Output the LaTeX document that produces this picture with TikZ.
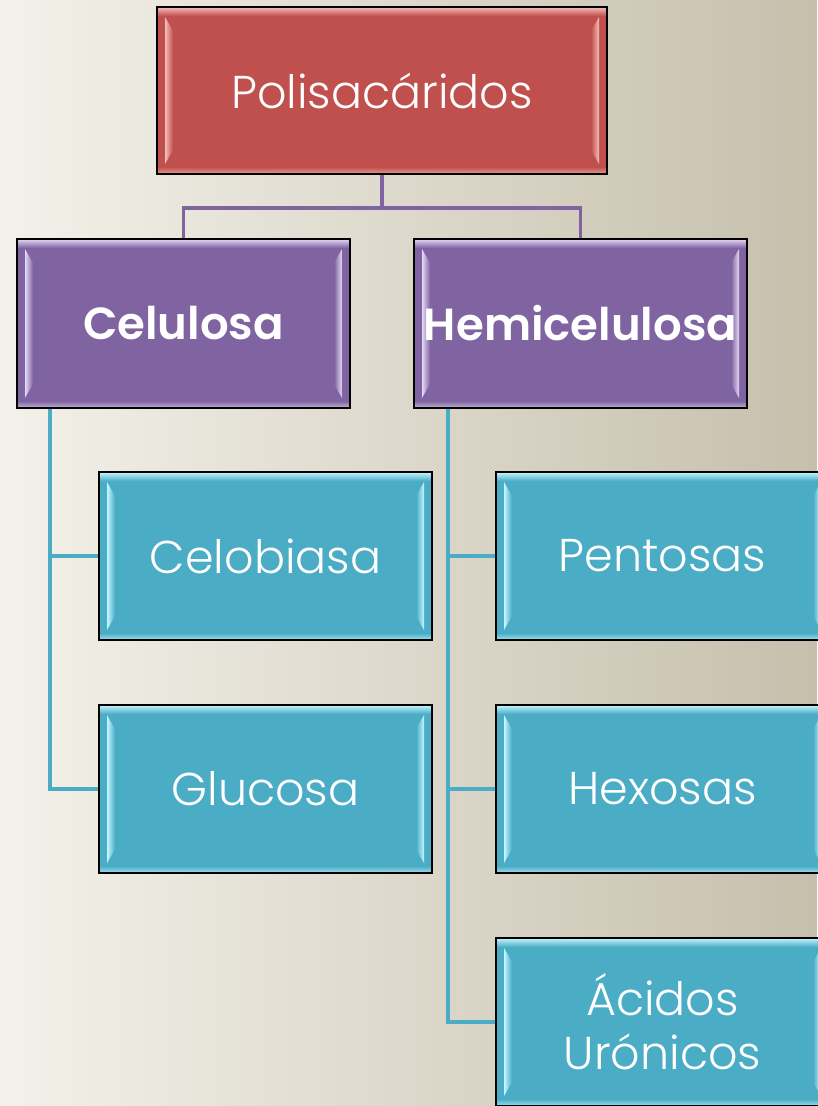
\documentclass[tikz,border=0pt]{standalone}
\usepackage{fontspec}
\setmainfont{Poppins Light}[BoldFont=Poppins SemiBold]
\usetikzlibrary{calc}

\pgfdeclarelayer{paper}
\pgfdeclarelayer{links}
\pgfsetlayers{paper,links,main}

\definecolor{bgleft}{HTML}{F3F1EA}
\definecolor{bgright}{HTML}{C6BFAC}
\definecolor{redbox}{HTML}{C0504D}
\definecolor{redlight}{HTML}{F6BDBA}
\definecolor{purplebox}{HTML}{8064A2}
\definecolor{purplelight}{HTML}{E4D8F4}
\definecolor{tealbox}{HTML}{4BACC6}
\definecolor{teallight}{HTML}{C4F6FF}

\tikzset{
  x=1pt, y=-1pt,
  % bevelled box: light side strips and soft top/bottom edges
  bevel/.style 2 args={
    fill=#1, draw=black, line width=1.6pt, text=white,
    path picture={
      \coordinate (bnw) at (path picture bounding box.north west);
      \coordinate (bse) at (path picture bounding box.south east);
      \coordinate (bne) at (bse |- bnw);
      \coordinate (bsw) at (bnw |- bse);
      \shade[top color=#2, bottom color=#1]
        (bnw) rectangle ($(bne)+(0,9)$);
      \shade[bottom color=#2!70!#1, top color=#1]
        ($(bsw)+(0,-7)$) rectangle (bse);
      \shade[left color=#2, right color=#1]
        ($(bnw)+(8,10)$) -- ($(bnw)+(16,24)$) -- ($(bsw)+(16,-24)$)
        -- ($(bsw)+(8,-10)$) -- cycle;
      \shade[right color=#2, left color=#1]
        ($(bne)+(-8,10)$) -- ($(bne)+(-16,24)$) -- ($(bse)+(-16,-24)$)
        -- ($(bse)+(-8,-10)$) -- cycle;
    }},
  rootbox/.style={bevel={redbox}{redlight}, minimum width=450pt,
    minimum height=167pt, font=\fontsize{46}{50}\selectfont},
  midbox/.style={bevel={purplebox}{purplelight}, minimum width=333pt,
    minimum height=169pt, font=\fontsize{45}{48}\selectfont\bfseries},
  leafbox/.style={bevel={tealbox}{teallight}, minimum width=333pt,
    minimum height=168pt, align=center,
    font=\fontsize{46}{54}\selectfont},
  purpleline/.style={draw=purplebox, line width=3.6pt},
  tealline/.style={draw=tealbox, line width=3.6pt},
}

\begin{document}
\begin{tikzpicture}
  % page background
  \begin{pgfonlayer}{paper}
    \shade[left color=bgleft, right color=bgright] (0,0) rectangle (817,1106);
  \end{pgfonlayer}
  \useasboundingbox (0,0) rectangle (817,1106);

  % boxes
  \node[rootbox] (root) at (382,90.5) {Polisacáridos};
  \node[midbox] (cel) at (183.5,323.5) {Celulosa};
  \node[midbox] (hem) at (580.5,323.5) {Hemicelulosa};
  \node[leafbox] (celo) at (265.5,556) {Celobiasa};
  \node[leafbox] (glu) at (265.5,789) {Glucosa};
  \node[leafbox] (pen) at (662.5,556) {Pentosas};
  \node[leafbox] (hex) at (662.5,789) {Hexosas};
  \node[leafbox] (aci) at (662.5,1022) {Ácidos\\Urónicos};

  \begin{pgfonlayer}{links}
    % top level connectors
    \coordinate (bus) at ($(root.south)+(0,33)$);
    \draw[purpleline] (root.south) -- (bus);
    \draw[purpleline] (cel.north) |- (bus) -| (hem.north);

    % Celulosa branch
    \coordinate (ctrunk) at ($(cel.south west)+(34,0)$);
    \draw[tealline] (ctrunk) |- (celo.west);
    \draw[tealline] (ctrunk) |- (glu.west);

    % Hemicelulosa branch
    \coordinate (htrunk) at ($(hem.south west)+(35,0)$);
    \draw[tealline] (htrunk) |- (pen.west);
    \draw[tealline] (htrunk) |- (hex.west);
    \draw[tealline] (htrunk) |- (aci.west);
  \end{pgfonlayer}
\end{tikzpicture}
\end{document}
